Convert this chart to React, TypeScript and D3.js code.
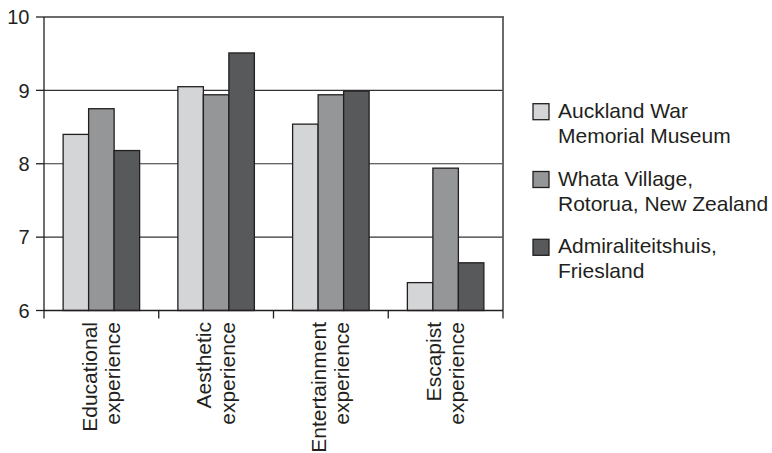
import React from "react";
import * as d3 from "d3";

const categories = [
  ["Educational", "experience"],
  ["Aesthetic", "experience"],
  ["Entertainment", "experience"],
  ["Escapist", "experience"],
];
const seriesNames = [
  ["Auckland War", "Memorial Museum"],
  ["Whata Village,", "Rotorua, New Zealand"],
  ["Admiraliteitshuis,", "Friesland"],
];
const auckland = [8.4, 9.05, 8.54, 6.38];
const whata = [8.75, 8.94, 8.94, 7.94];
const admiraliteitshuis = [8.18, 9.51, 8.99, 6.65];
const yTicks = [6, 7, 8, 9, 10];
const colors = ["#d4d5d7", "#959698", "#58595b"];

const W = 772;
const H = 453;
const left = 44;
const right = 503;
const top = 17;
const bottom = 310.5;
const ink = "#231f20";
const font = "'Liberation Sans', Arial, Helvetica, sans-serif";

export default function App() {
  const series = [auckland, whata, admiraliteitshuis];
  const catIdx = categories.map((_, i) => String(i));
  const x0 = d3.scaleBand().domain(catIdx).range([left, right]).paddingInner(1 / 3).paddingOuter(1 / 6);
  const x1 = d3.scaleBand().domain(["0", "1", "2"]).range([0, x0.bandwidth()]).padding(0);
  const y = d3.scaleLinear().domain([6, 10]).range([bottom, top]);
  const step = x0.step();
  const boundaries = d3.range(categories.length + 1).map((i) => left + i * step);

  return (
    <svg width={W} height={H} style={{ position: "absolute", left: 0, top: 0, background: "#fff" }}>
      {/* gridlines */}
      {yTicks.filter((t) => t > 6 && t < 10).map((t) => (
        <line key={"g" + t} x1={left} x2={right} y1={y(t)} y2={y(t)} stroke="#333" strokeWidth={1.2} />
      ))}
      {/* frame top & right */}
      <line x1={left} x2={right + 1} y1={y(10)} y2={y(10)} stroke="#6a6b6d" strokeWidth={2} />
      <line x1={right} x2={right} y1={y(10)} y2={bottom} stroke="#5a5b5d" strokeWidth={1.8} />
      {/* bars */}
      {categories.map((_, ci) => (
        <g key={"c" + ci} transform={`translate(${x0(String(ci))},0)`}>
          {series.map((s, si) => (
            <rect
              key={si}
              x={x1(String(si))}
              y={y(s[ci])}
              width={x1.bandwidth()}
              height={bottom - y(s[ci])}
              fill={colors[si]}
              stroke={ink}
              strokeWidth={1.3}
            />
          ))}
        </g>
      ))}
      {/* y axis */}
      <line x1={left} x2={left} y1={y(10)} y2={bottom} stroke={ink} strokeWidth={1.3} />
      {yTicks.map((t) => (
        <g key={"t" + t}>
          <line x1={left - 8} x2={left} y1={y(t)} y2={y(t)} stroke={ink} strokeWidth={1.3} />
          <text x={29.5} y={y(t)} dy="0.36em" textAnchor="end" fontSize={20} fontFamily={font} fill={ink}>
            {t}
          </text>
        </g>
      ))}
      {/* x axis */}
      <line x1={left} x2={right} y1={bottom} y2={bottom} stroke={ink} strokeWidth={1.3} />
      {boundaries.map((b, i) => (
        <line key={"b" + i} x1={b} x2={b} y1={bottom} y2={bottom + 8} stroke={ink} strokeWidth={1.3} />
      ))}
      {categories.map((lines, ci) => {
        const cx = (x0(String(ci)) as number) + x0.bandwidth() / 2;
        return (
          <g key={"l" + ci} transform={`translate(${cx},322) rotate(-90)`}>
            {lines.map((ln, li) => (
              <text key={li} x={0} y={li === 0 ? -4.7 : 18.6} textAnchor="end" fontSize={21} fontFamily={font} fill={ink}>
                {ln}
              </text>
            ))}
          </g>
        );
      })}
      {/* legend */}
      {seriesNames.map((lines, si) => {
        const baseY = 117.7 + si * 67.8;
        return (
          <g key={"lg" + si}>
            <rect x={533} y={baseY - 14} width={16} height={16} fill={colors[si]} stroke={ink} strokeWidth={1.3} />
            {lines.map((ln, li) => (
              <text key={li} x={558} y={baseY + li * 25} fontSize={21} fontFamily={font} fill={ink}>
                {ln}
              </text>
            ))}
          </g>
        );
      })}
    </svg>
  );
}
